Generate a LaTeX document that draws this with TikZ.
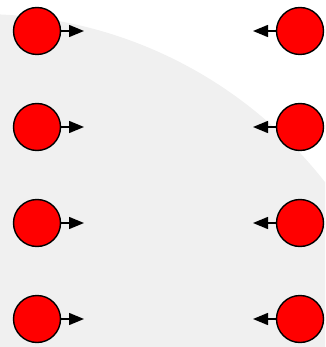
\documentclass[tikz,border=0pt]{standalone}
\usetikzlibrary{arrows.meta}
\begin{document}
\begin{tikzpicture}[x=1pt,y=-1pt,
  ball/.style={circle,draw=black,line width=1.4pt,fill=red,minimum size=47pt,inner sep=0pt},
  pin/.style={line width=1.4pt,-{Triangle[length=15pt,width=12pt]}}]
\useasboundingbox (0,0) rectangle (325,347);
\begin{scope}
\clip (0,0) rectangle (325,347);
\fill[black!6] (-20,452) circle (438);
\end{scope}
\foreach \i/\y in {1/31,2/127,3/223,4/319}{
  \node[ball] (l\i) at (37,\y) {};
  \coordinate (lt\i) at (84,\y);
  \draw[pin] (l\i.east) -- (lt\i);
  \node[ball] (r\i) at (300,\y) {};
  \coordinate (rt\i) at (253,\y);
  \draw[pin] (r\i.west) -- (rt\i);
}
\end{tikzpicture}
\end{document}
